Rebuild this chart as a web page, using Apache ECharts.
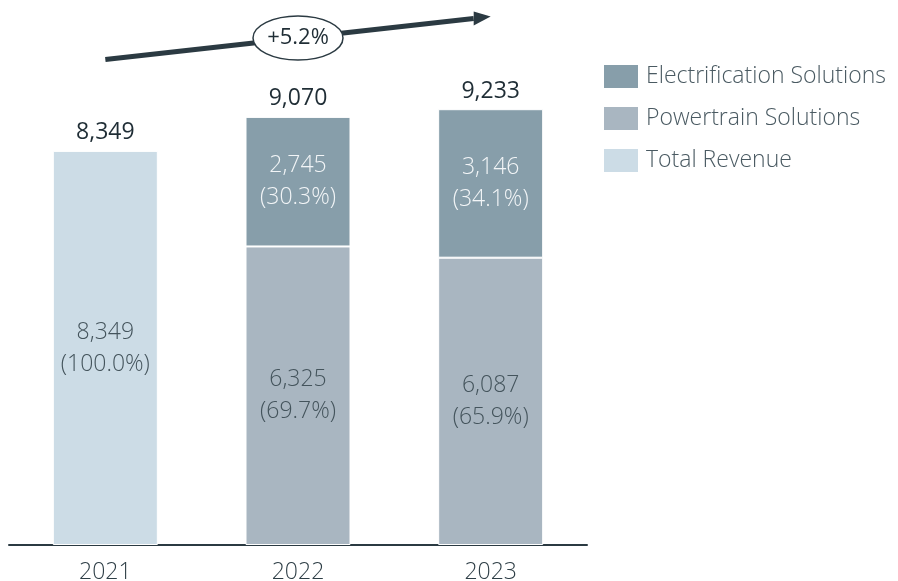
<!DOCTYPE html>
<html>
<head>
<meta charset="utf-8">
<script src="https://cdn.jsdelivr.net/npm/echarts@6/dist/echarts.min.js"></script>
<style>
  html, body { margin: 0; padding: 0; background: #fff; }
  #chart { width: 898px; height: 581px; }
</style>
</head>
<body>
<div id="chart"></div>
<script>
const years = ["2021", "2022", "2023"];
const totalRevenue = [8349, null, null];
const powertrain = [null, 6325, 6087];
const electrification = [null, 2745, 3146];
const totals = [8349, 9070, 9233];
const shareTotal = ["100.0%", null, null];
const sharePowertrain = [null, "69.7%", "65.9%"];
const shareElectrification = [null, "30.3%", "34.1%"];
const growthLabel = "+5.2%";

const FONT = "'Open Sans', 'Noto Sans', sans-serif";
const DARK = "#2b3a42";

const fmt = (v) => v.toLocaleString("en-US");

const chart = echarts.init(document.getElementById("chart"));

const insideLabel = (shares, color) => ({
  show: true,
  position: "inside",
  color: color,
  fontFamily: FONT,
  fontWeight: 300,
  fontSize: 23,
  lineHeight: 32,
  formatter: (p) => fmt(p.value) + "\n(" + shares[p.dataIndex] + ")"
});

const barBase = {
  type: "bar",
  stack: "rev",
  barWidth: 105
};

chart.setOption({
  animation: false,
  textStyle: { fontFamily: FONT },
  grid: { left: 9, right: 311, top: 73, bottom: 36, outerBoundsMode: "none" },
  legend: {
    orient: "vertical",
    left: 597,
    top: 58,
    itemWidth: 36,
    itemHeight: 25,
    itemGap: 15,
    icon: "rect",
    data: ["Electrification Solutions", "Powertrain Solutions", "Total Revenue"],
    textStyle: { color: "#4a5a62", fontSize: 23, fontWeight: 300, fontFamily: FONT, padding: [0, 0, 0, 2] }
  },
  xAxis: {
    type: "category",
    data: years,
    axisLine: { lineStyle: { color: DARK, width: 2 } },
    axisTick: { show: false },
    axisLabel: { color: "#2e3e46", fontSize: 23, fontWeight: 300, margin: 16, fontFamily: FONT }
  },
  yAxis: {
    type: "value",
    min: 0,
    max: 10000,
    show: false,
    splitLine: { show: false }
  },
  series: [
    Object.assign({}, barBase, {
      name: "Total Revenue",
      data: totalRevenue,
      itemStyle: { color: "#ccdce6", borderColor: "#fff", borderWidth: 1 },
      label: insideLabel(shareTotal, "#44545c")
    }),
    Object.assign({}, barBase, {
      name: "Powertrain Solutions",
      data: powertrain,
      itemStyle: { color: "#a9b6c1", borderColor: "#fff", borderWidth: 1 },
      label: insideLabel(sharePowertrain, "#44545c")
    }),
    Object.assign({}, barBase, {
      name: "Electrification Solutions",
      data: electrification,
      itemStyle: { color: "#879eaa", borderColor: "#fff", borderWidth: 1 },
      label: insideLabel(shareElectrification, "#f2f5f7")
    }),
    {
      name: "totals",
      type: "line",
      data: totals,
      symbol: "circle",
      symbolSize: 1,
      showSymbol: true,
      itemStyle: { color: "rgba(0,0,0,0)" },
      lineStyle: { width: 0, color: "rgba(0,0,0,0)" },
      silent: true,
      label: {
        show: true,
        position: "top",
        distance: 6,
        color: "#1f2d35",
        fontSize: 23,
        fontFamily: FONT,
        formatter: (p) => fmt(p.value)
      }
    }
  ]
});

// growth arrow across the category centres
const x0 = chart.convertToPixel({ xAxisIndex: 0 }, years[0]);
const x1 = chart.convertToPixel({ xAxisIndex: 0 }, years[1]);
const x2 = chart.convertToPixel({ xAxisIndex: 0 }, years[2]);
const yStart = 59.5, yEnd = 16.5;
const slope = (yEnd - yStart) / (x2 - x0);
const headLen = 17;
const bx = x2 - headLen, by = yEnd - slope * headLen;
const ey = yStart + slope * (x1 - x0);

chart.setOption({
  graphic: [
    {
      type: "line",
      shape: { x1: x0, y1: yStart, x2: bx, y2: by },
      style: { stroke: DARK, lineWidth: 5 }
    },
    {
      type: "polygon",
      shape: { points: [[x2, yEnd], [bx, by - 7], [bx, by + 7]] },
      style: { fill: DARK }
    },
    {
      type: "ellipse",
      shape: { cx: x1, cy: ey, rx: 45, ry: 22 },
      style: { fill: "#ffffff", stroke: DARK, lineWidth: 1.5 }
    },
    {
      type: "text",
      x: x1,
      y: ey,
      style: {
        text: growthLabel,
        fill: "#1f2d35",
        fontSize: 22,
        fontFamily: FONT,
        align: "center",
        verticalAlign: "middle"
      }
    }
  ]
});
</script>
</body>
</html>
